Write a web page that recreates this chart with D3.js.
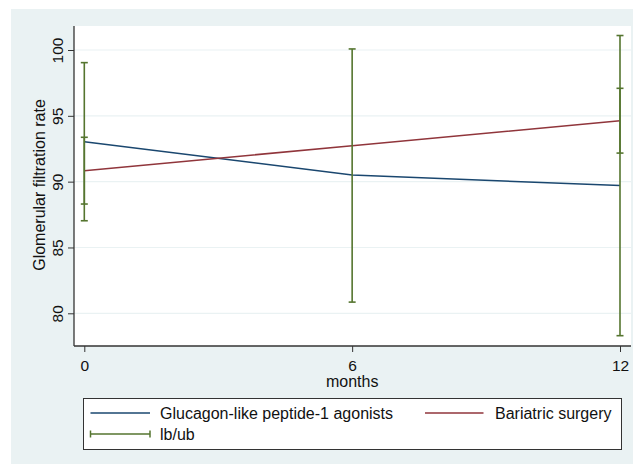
<!DOCTYPE html>
<html><head><meta charset="utf-8">
<script src="https://cdn.jsdelivr.net/npm/d3@7"></script>
<style>body{margin:0;background:#fff}svg{display:block;font-family:"Liberation Sans",Arial,sans-serif}</style>
</head><body>
<script>
const months = [0, 6, 12];
const glp1 = [93.03, 90.5, 89.7];
const bariatric = [90.83, 92.73, 94.63];
const ciMonths = [0, 0, 6, 12, 12];
const ciLower = [87.03, 88.3, 80.85, 78.3, 92.17];
const ciUpper = [99.04, 93.37, 100.08, 101.1, 97.09];
const yTicks = [80, 85, 90, 95, 100];
const xTicks = [0, 6, 12];
const seriesNames = ["Glucagon-like peptide-1 agonists", "Bariatric surgery", "lb/ub"];
const colors = {blue: "#1a476f", red: "#90353b", green: "#55752f"};

const W = 633, H = 464;
const svg = d3.select("body").append("svg").attr("width", W).attr("height", H);
svg.append("rect").attr("x", 11).attr("y", 9).attr("width", 622).attr("height", 455).attr("fill", "#eaf2f3");

const L = 74, R = 631, T = 26, B = 346;
svg.append("rect").attr("x", L).attr("y", T).attr("width", R - L).attr("height", B - T).attr("fill", "#fff");

const x = d3.scaleLinear().domain([0, 12]).range([84.3, 620]);
const y = d3.scaleLinear().domain([80, 100]).range([313.3, 50]);

// gridlines
svg.append("g").selectAll("line").data(yTicks).join("line")
  .attr("x1", L).attr("x2", R).attr("y1", d => y(d)).attr("y2", d => y(d))
  .attr("stroke", "#eaf2f3").attr("stroke-width", 1.2);

// axes
const yAxis = svg.append("g").attr("transform", `translate(${L},0)`)
  .call(d3.axisLeft(y).tickValues(yTicks).tickSize(6).tickFormat(d3.format("d")));
yAxis.select(".domain").attr("d", `M0,${T}V${B}`).attr("stroke", "#333").attr("stroke-width", 1.3);
yAxis.selectAll(".tick line").attr("stroke", "#333");
yAxis.selectAll(".tick text").attr("font-size", 15.5).attr("fill", "#111")
  .attr("transform", "rotate(-90)").attr("x", 0).attr("y", -11).attr("dy", null)
  .attr("text-anchor", "middle");

const xAxis = svg.append("g").attr("transform", `translate(0,${B})`)
  .call(d3.axisBottom(x).tickValues(xTicks).tickSize(6).tickFormat(d3.format("d")));
xAxis.select(".domain").attr("d", `M${L},0H${R}`).attr("stroke", "#333").attr("stroke-width", 1.3);
xAxis.selectAll(".tick line").attr("stroke", "#333");
xAxis.selectAll(".tick text").attr("font-size", 15.5).attr("fill", "#111").attr("y", 24.7).attr("dy", null);

svg.append("text").attr("x", x(6)).attr("y", 386.5).attr("text-anchor", "middle")
  .attr("font-size", 16).attr("fill", "#111").text("months");
svg.append("text").attr("transform", `translate(45,${(T+B)/2 - 1}) rotate(-90)`).attr("text-anchor", "middle")
  .attr("font-size", 16).attr("fill", "#111").text("Glomerular filtration rate");

// lines
const line = d3.line().x((d, i) => x(months[i])).y(d => y(d));
svg.append("path").datum(glp1).attr("d", line).attr("fill", "none").attr("stroke", colors.blue).attr("stroke-width", 1.5);
svg.append("path").datum(bariatric).attr("d", line).attr("fill", "none").attr("stroke", colors.red).attr("stroke-width", 1.5);

// error bars
const ci = ciMonths.map((m, i) => ({m, lo: ciLower[i], hi: ciUpper[i]}));
const eb = svg.append("g").attr("stroke", colors.green).attr("stroke-width", 1.6);
ci.forEach(d => {
  eb.append("line").attr("x1", x(d.m)).attr("x2", x(d.m)).attr("y1", y(d.lo)).attr("y2", y(d.hi));
  eb.append("line").attr("x1", x(d.m) - 3.5).attr("x2", x(d.m) + 3.5).attr("y1", y(d.lo)).attr("y2", y(d.lo));
  eb.append("line").attr("x1", x(d.m) - 3.5).attr("x2", x(d.m) + 3.5).attr("y1", y(d.hi)).attr("y2", y(d.hi));
});

// legend
const lg = svg.append("g");
lg.append("rect").attr("x", 83.5).attr("y", 398.5).attr("width", 538).attr("height", 51)
  .attr("fill", "#fff").attr("stroke", "#333").attr("stroke-width", 1);
const ly1 = 413, ly2 = 434;
lg.append("line").attr("x1", 90.5).attr("x2", 150).attr("y1", ly1).attr("y2", ly1).attr("stroke", colors.blue).attr("stroke-width", 1.5);
lg.append("text").attr("x", 160).attr("y", ly1).attr("dy", "0.35em").attr("font-size", 16).attr("fill", "#111").text(seriesNames[0]);
lg.append("line").attr("x1", 425).attr("x2", 483.5).attr("y1", ly1).attr("y2", ly1).attr("stroke", colors.red).attr("stroke-width", 1.5);
lg.append("text").attr("x", 495).attr("y", ly1).attr("dy", "0.35em").attr("font-size", 16).attr("fill", "#111").text(seriesNames[1]);
const lgg = lg.append("g").attr("stroke", colors.green).attr("stroke-width", 1.5);
lgg.append("line").attr("x1", 90.5).attr("x2", 150).attr("y1", ly2).attr("y2", ly2);
lgg.append("line").attr("x1", 90.5).attr("x2", 90.5).attr("y1", ly2 - 3.5).attr("y2", ly2 + 3.5);
lgg.append("line").attr("x1", 150).attr("x2", 150).attr("y1", ly2 - 3.5).attr("y2", ly2 + 3.5);
lg.append("text").attr("x", 160).attr("y", ly2).attr("dy", "0.35em").attr("font-size", 16).attr("fill", "#111").text(seriesNames[2]);
</script>
</body></html>
